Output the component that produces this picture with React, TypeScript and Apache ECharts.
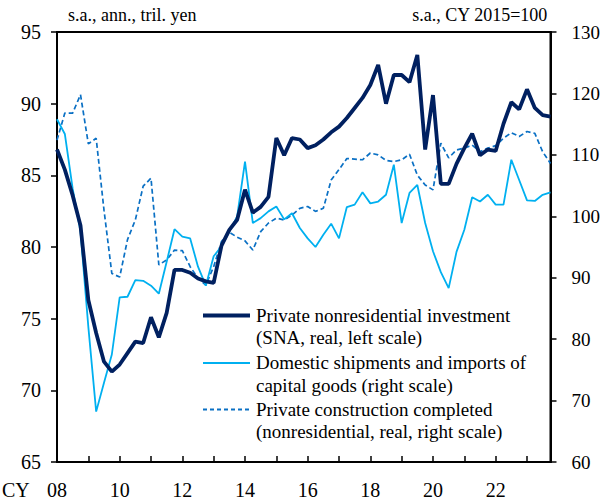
import React, { useEffect, useRef } from "react";
import * as echarts from "echarts";

const years: number[] = [];
for (let y = 2008; y <= 2023; y++) years.push(y);
const quarters: string[] = [];
years.forEach((y) => [1, 2, 3, 4].forEach((q) => quarters.push(`${y}Q${q}`)));

const leftTicks = [65, 70, 75, 80, 85, 90, 95];
const rightTicks = [60, 70, 80, 90, 100, 110, 120, 130];

const snaInvestment = [
  86.8, 85.4, 83.6, 81.5, 76.3, 74.0, 72.0, 71.3, 71.8, 72.6, 73.4, 73.3, 75.1, 73.7, 75.4, 78.4,
  78.4, 78.2, 77.8, 77.6, 77.5, 80.1, 81.2, 81.9, 84.0, 82.4, 82.8, 83.5, 87.6, 86.4, 87.6, 87.5,
  86.9, 87.1, 87.5, 88.0, 88.4, 89.0, 89.7, 90.4, 91.3, 92.7, 90.0, 92.0, 92.0, 91.5, 93.4, 86.8,
  90.6, 84.4, 84.4, 85.8, 86.9, 87.9, 86.4, 86.8, 86.7, 88.6, 90.1, 89.6, 91.0, 89.7, 89.2, 89.1,
];

const capitalGoods = [
  115.8, 113.4, 104.5, 97.5, 82.0, 68.2, 72.9, 77.5, 86.8, 86.9, 89.6, 89.5, 88.7, 87.4, 92.6, 97.9,
  96.7, 96.4, 91.8, 88.7, 93.5, 95.1, 97.5, 100.0, 108.9, 98.9, 99.7, 100.8, 101.6, 99.5, 100.5, 98.1,
  96.4, 95.0, 97.0, 98.8, 96.4, 101.5, 101.9, 103.9, 102.1, 102.4, 103.5, 108.4, 98.9, 103.8, 105.1, 98.9,
  94.3, 90.9, 88.3, 94.2, 97.8, 103.1, 102.4, 103.5, 101.9, 101.9, 109.2, 105.9, 102.6, 102.5, 103.5, 103.9,
];

const construction = [
  112.4, 116.8, 116.8, 119.8, 111.8, 112.7, 101.0, 90.7, 90.1, 96.2, 99.4, 104.9, 106.2, 92.1, 92.9, 94.5,
  94.4, 91.8, 89.9, 88.8, 91.8, 95.9, 97.4, 96.6, 96.0, 94.5, 97.5, 98.9, 99.7, 99.4, 100.2, 101.3,
  101.6, 100.8, 101.3, 105.9, 107.6, 109.4, 109.3, 109.2, 110.3, 110.0, 109.1, 108.9, 109.2, 110.1, 106.7, 105.1,
  104.3, 111.9, 109.5, 110.8, 111.1, 111.6, 110.5, 111.1, 111.5, 112.7, 113.6, 113.0, 113.8, 113.5, 110.5, 108.6,
];

const seriesNames = [
  "Private nonresidential investment\n(SNA, real, left scale)",
  "Domestic shipments and imports of\ncapital goods (right scale)",
  "Private construction completed\n(nonresidential, real, right scale)",
];

const COLORS = ["#002060", "#00b0f0", "#0a70c4"];
const FONT = "'Liberation Serif', serif";

export default function App() {
  const ref = useRef<HTMLDivElement>(null);
  useEffect(() => {
    if (!ref.current) return;
    const chart = echarts.init(ref.current, undefined, { renderer: "svg" });

    const legendTops = [315.5, 363, 409.5];
    const legendStyles = [
      { stroke: COLORS[0], lineWidth: 4 },
      { stroke: COLORS[1], lineWidth: 2 },
      { stroke: COLORS[2], lineWidth: 1.8, lineDash: [4, 3] },
    ];
    const legendGraphics: any[] = [];
    seriesNames.forEach((name, i) => {
      legendGraphics.push({
        type: "line",
        shape: { x1: 203, y1: legendTops[i], x2: 250, y2: legendTops[i] },
        style: legendStyles[i],
        z: 10,
      });
      legendGraphics.push({
        type: "text",
        x: 256,
        y: legendTops[i] - 11.5,
        style: {
          text: name,
          fontFamily: FONT,
          fontSize: 19,
          fill: "#000",
          lineHeight: 22.5,
          verticalAlign: "top",
        },
        z: 10,
      });
    });

    chart.setOption({
      animation: false,
      backgroundColor: "#ffffff",
      textStyle: { fontFamily: FONT, color: "#000" },
      grid: {
        left: 57,
        right: 52,
        top: 32,
        bottom: 38,
        show: true,
        borderColor: "#000",
        borderWidth: 2,
        backgroundColor: "transparent",
      },
      graphic: [
        {
          type: "text",
          left: 68,
          top: 6,
          style: { text: "s.a., ann., tril. yen", fontFamily: FONT, fontSize: 18, fill: "#000" },
        },
        {
          type: "text",
          right: 55,
          top: 6,
          style: { text: "s.a., CY 2015=100", fontFamily: FONT, fontSize: 18, fill: "#000" },
        },
        {
          type: "text",
          left: 2,
          top: 480,
          style: { text: "CY", fontFamily: FONT, fontSize: 20, fill: "#000" },
        },
        ...legendGraphics,
      ],
      xAxis: {
        type: "category",
        data: quarters,
        boundaryGap: false,
        axisLine: { lineStyle: { color: "#000", width: 2 } },
        axisTick: {
          inside: true,
          length: 6,
          interval: (i: number) => i % 4 === 0,
          lineStyle: { color: "#000", width: 1.5 },
        },
        axisLabel: {
          interval: (i: number) => i % 8 === 0,
          formatter: (v: string) => v.slice(2, 4),
          fontFamily: FONT,
          fontSize: 20,
          color: "#000",
          margin: 18,
        },
        splitLine: { show: false },
      },
      yAxis: [
        {
          type: "value",
          min: leftTicks[0],
          max: leftTicks[leftTicks.length - 1],
          interval: 5,
          position: "left",
          axisLine: { show: true, lineStyle: { color: "#000", width: 2 } },
          axisTick: { show: true, length: 6, lineStyle: { color: "#000", width: 1.5 } },
          axisLabel: { fontFamily: FONT, fontSize: 20, color: "#000", margin: 16 },
          splitLine: { show: false },
        },
        {
          type: "value",
          min: rightTicks[0],
          max: rightTicks[rightTicks.length - 1],
          interval: 10,
          position: "right",
          axisLine: { show: true, lineStyle: { color: "#000", width: 2 } },
          axisTick: { show: true, length: 6, lineStyle: { color: "#000", width: 1.5 } },
          axisLabel: { fontFamily: FONT, fontSize: 19, color: "#000", margin: 21 },
          splitLine: { show: false },
        },
      ],
      series: [
        {
          name: seriesNames[2],
          type: "line",
          yAxisIndex: 1,
          data: construction,
          symbol: "none",
          lineStyle: { color: COLORS[2], width: 1.7, type: [5, 3] },
          z: 2,
        },
        {
          name: seriesNames[1],
          type: "line",
          yAxisIndex: 1,
          data: capitalGoods,
          symbol: "none",
          lineStyle: { color: COLORS[1], width: 1.8 },
          z: 3,
        },
        {
          name: seriesNames[0],
          type: "line",
          yAxisIndex: 0,
          data: snaInvestment,
          symbol: "none",
          lineStyle: { color: COLORS[0], width: 3.8 },
          z: 4,
        },
      ],
    });
    return () => chart.dispose();
  }, []);
  return (
    <div
      ref={ref}
      style={{ position: "absolute", left: 0, top: 0, width: 603, height: 500 }}
    />
  );
}
